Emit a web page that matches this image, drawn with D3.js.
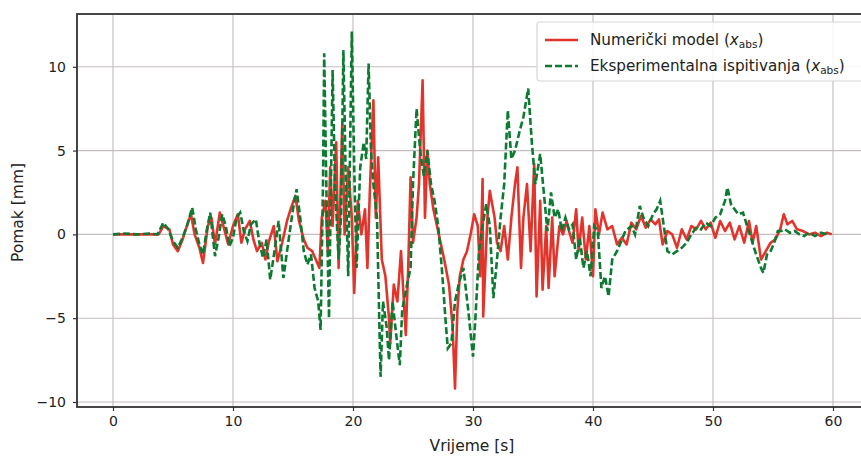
<!DOCTYPE html>
<html><head><meta charset="utf-8">
<script src="https://cdn.jsdelivr.net/npm/d3@7"></script>
<style>body{margin:0;background:#fff}svg{display:block}text{font-family:"DejaVu Sans",sans-serif;fill:#222}</style>
</head><body><svg id="c" width="861" height="458"></svg>
<script>
// Numerički model (x_abs)
const timeNum = [0,1,2,3,3.8,4.2,4.7,5.0,5.4,5.8,6.2,6.5,6.8,7.2,7.5,7.9,8.2,8.5,8.9,9.2,9.6,10.0,10.4,10.7,11.0,11.4,11.7,12.0,12.4,12.7,13.0,13.4,13.7,14.1,14.5,14.8,15.2,15.5,15.9,16.2,16.6,16.9,17.2,17.4,17.7,17.9,18.1,18.3,18.6,18.8,19.1,19.3,19.6,19.9,20.1,20.4,20.7,21.0,21.2,21.4,21.7,21.9,22.1,22.4,22.7,23.0,23.1,23.4,23.7,24.0,24.2,24.4,24.6,24.8,25.0,25.3,25.5,25.8,26.0,26.2,26.4,26.7,27.0,27.3,27.6,28.0,28.3,28.5,28.7,28.9,29.2,29.5,29.8,30.1,30.4,30.6,30.8,30.85,31.2,31.4,31.8,32.0,32.3,32.6,32.9,33.2,33.5,33.7,34.0,34.2,34.5,34.8,35.1,35.3,35.6,35.8,36.1,36.3,36.6,36.8,37.2,37.5,37.8,38.0,38.3,38.6,38.8,39.1,39.4,39.7,40.0,40.2,40.5,40.8,41.2,41.6,42.0,42.4,42.8,43.2,43.6,44.0,44.4,44.8,45.2,45.5,45.8,46.2,46.6,47.0,47.4,47.8,48.2,48.6,49.0,49.4,49.8,50.2,50.6,51.0,51.4,51.8,52.2,52.6,53.0,53.3,53.6,54.0,54.4,54.8,55.2,55.6,55.9,56.2,56.6,57.0,57.5,58.0,58.5,59.0,59.5,59.9];
const numericki = [0,0,0,0,0,0.5,0.3,-0.6,-1.0,-0.3,0.6,1.2,0.0,-0.8,-1.7,0.5,1.0,-0.6,1.3,0.5,-0.6,0.5,1.2,-0.5,0.3,0.8,-0.3,-1.0,-0.5,-1.5,-0.4,0.5,-1.6,-0.5,0.8,1.5,2.3,0.8,-0.3,-0.8,-1.0,-1.5,-2.0,1.0,2.0,-1.0,4.0,0.5,5.5,-2.0,6.5,0.0,4.0,1.0,-3.5,2.0,0.0,1.5,-2.0,2.5,8.0,1.0,4.6,-1.5,-2.5,-5.0,-6.5,-3.0,-4.0,-1.0,-3.5,-6.0,-2.0,3.4,-0.5,1.0,3.0,9.2,1.0,5.0,3.0,1.5,0.5,-0.5,-1.5,-3.0,-5.5,-9.2,-4.5,-2.5,-1.5,-1.0,0.0,1.2,0.5,-2.5,3.3,-4.9,1.0,2.6,1.0,-0.5,-1.0,0.5,-1.5,1.0,3.0,4.0,-2.0,1.0,3.0,-1.0,4.2,-3.7,2.0,-3.3,0.5,-3.2,1.0,-2.5,0.5,0.0,0.8,0.2,-0.5,1.5,-1.0,1.0,-1.5,0.5,-2.5,1.5,0.0,1.3,0.3,0.5,-0.6,-0.2,-0.6,0.7,0.3,1.1,0.4,0.9,0.6,0.9,-0.6,0.2,0.0,-0.8,0.3,-0.3,0.5,0.3,0.8,0.3,0.7,-0.2,0.8,0.2,0.7,-0.3,0.5,-0.5,0.8,-0.5,0.5,-1.5,-1.0,-0.5,-0.3,0.3,1.2,0.6,0.8,0.3,0.2,0.0,0.1,-0.1,0.1,0.0];
// Eksperimentalna ispitivanja (x_abs)
const timeExp = [0,1,2,3,3.7,4.2,4.6,5.0,5.4,5.8,6.2,6.6,6.9,7.2,7.5,7.8,8.1,8.5,8.8,9.1,9.4,9.7,10.0,10.3,10.6,10.9,11.2,11.5,11.9,12.2,12.5,12.8,13.1,13.5,13.8,14.2,14.6,15.0,15.3,15.6,15.9,16.2,16.5,16.8,17.1,17.3,17.5,17.6,17.8,18.0,18.3,18.5,18.8,19.0,19.2,19.4,19.6,19.9,20.1,20.3,20.6,20.9,21.1,21.3,21.5,21.7,22.0,22.2,22.3,22.5,22.8,23.0,23.3,23.6,23.9,24.1,24.5,24.8,25.0,25.3,25.6,25.9,26.2,26.5,26.8,27.1,27.4,27.7,27.9,28.2,28.5,28.8,29.2,29.6,30.0,30.2,30.5,30.8,31.1,31.4,31.7,32.0,32.3,32.6,32.9,33.2,33.5,33.9,34.2,34.6,34.9,35.2,35.6,35.9,36.2,36.5,36.8,37.1,37.4,37.7,38.0,38.3,38.6,38.9,39.2,39.5,39.8,40.1,40.4,40.7,41.0,41.3,41.6,42.0,42.3,42.7,43.2,43.5,43.9,44.2,44.6,45.0,45.3,45.6,45.9,46.2,46.6,47.0,47.4,47.8,48.2,48.6,49.0,49.4,49.8,50.2,50.6,51.0,51.2,51.5,51.8,52.1,52.5,52.8,53.2,53.6,54.0,54.2,54.5,54.8,55.1,55.4,55.7,56.0,56.4,56.8,57.2,57.6,58.0,58.5,59.0,59.5];
const eksperiment = [0,0.05,0,0.05,0,0.7,0.3,-0.4,-0.8,-0.2,0.6,1.6,0.3,-0.6,-1.2,0.2,1.3,-1.3,-0.2,1.2,0.5,-0.7,-0.2,1.0,1.3,0.2,-0.4,0.6,0.9,-0.5,-1.4,-0.3,-2.7,-0.8,0.8,-2.6,-0.5,1.5,2.7,1.0,-1.0,-1.8,-1.2,-3.2,-4.0,-5.7,3.0,10.8,2.0,-5.0,9.8,3.0,-1.5,1.0,11.0,3.0,-2.5,12.1,4.0,-2.0,4.0,5.5,4.5,10.2,5.0,3.0,1.0,-5.5,-8.5,-4.0,-5.5,-7.5,-4.0,-6.0,-7.8,-4.5,-3.0,-2.0,3.0,7.5,5.0,3.5,5.0,3.0,2.0,0.5,-2.0,-5.0,-6.8,-6.5,-4.0,-3.0,-2.0,-4.5,-7.3,-5.0,-1.0,0.5,1.8,0.5,-3.8,-1.5,1.0,3.0,7.4,4.5,5.0,6.2,7.0,8.7,5.5,3.0,4.8,2.5,0.2,2.5,1.0,1.5,0.2,1.0,0.3,0.6,-1.5,-0.2,-2.0,-1.0,-2.5,0.5,0.2,-3.2,-2.5,-3.7,-1.5,-1.0,-0.5,0.2,0.5,0.0,1.7,1.0,0.5,1.2,1.5,2.0,0.5,-1.0,-1.2,-1.0,-0.8,-0.5,0.0,0.4,0.3,0.7,0.5,1.0,1.2,2.0,2.8,1.8,1.5,1.2,1.3,0.6,-0.3,-1.2,-2.0,-2.3,-1.2,-1.0,-0.5,0.2,0.2,0.3,0.1,0.2,0.0,-0.1,0.1,-0.1,0.1,0.0];
const xTicks = [0,10,20,30,40,50,60];
const yTicks = [-10,-5,0,5,10];
const labels = {x:"Vrijeme [s]", y:"Pomak [mm]", num:"Numerički model", exp:"Eksperimentalna ispitivanja"};

const svg = d3.select("#c");
const L = 77, T = 14, W = 792, H = 393;
const x = d3.scaleLinear().domain([-3, 63]).range([L, L + W]);
const y = d3.scaleLinear().domain([-10.3, 13.15]).range([T + H, T]);

const g = svg.append("g");
g.selectAll(".gx").data(xTicks).join("line")
  .attr("x1", d => x(d)).attr("x2", d => x(d)).attr("y1", T).attr("y2", T + H)
  .attr("stroke", "#c4bcbc").attr("stroke-width", 1.1);
g.selectAll(".gy").data(yTicks).join("line")
  .attr("x1", L).attr("x2", L + W).attr("y1", d => y(d)).attr("y2", d => y(d))
  .attr("stroke", "#c4bcbc").attr("stroke-width", 1.1);

svg.append("clipPath").attr("id","cp").append("rect").attr("x",L).attr("y",T).attr("width",W).attr("height",H);

const line = d3.line().x(d => x(d[0])).y(d => y(d[1]));
const numData = timeNum.map((t, i) => [t, numericki[i]]);
const expData = timeExp.map((t, i) => [t, eksperiment[i]]);
svg.append("path").datum(numData).attr("d", line).attr("fill","none")
  .attr("stroke","#e3342c").attr("stroke-width",2.6).attr("stroke-linejoin","round").attr("clip-path","url(#cp)");
svg.append("path").datum(expData).attr("d", line).attr("fill","none")
  .attr("stroke","#0d7a32").attr("stroke-width",2.6).attr("stroke-dasharray","7,3").attr("clip-path","url(#cp)");

const xa = svg.append("g").attr("transform", `translate(0,${T + H})`)
  .call(d3.axisBottom(x).tickValues(xTicks).tickSize(4).tickPadding(5).tickFormat(d3.format("d")));
const ya = svg.append("g").attr("transform", `translate(${L},0)`)
  .call(d3.axisLeft(y).tickValues(yTicks).tickSize(4).tickPadding(7).tickFormat(d => d < 0 ? "\u2212" + Math.abs(d) : d));
[xa, ya].forEach(a => {
  a.select(".domain").remove();
  a.selectAll(".tick line").attr("stroke", "#333").attr("stroke-width", 1.2);
  a.selectAll(".tick text").attr("font-size", 14).attr("fill", "#222").style("font-family","DejaVu Sans");
});
svg.append("rect").attr("x", L).attr("y", T).attr("width", W).attr("height", H)
  .attr("fill", "none").attr("stroke", "#333").attr("stroke-width", 1.8);

svg.append("text").attr("x", x(30) - 1).attr("y", 451).attr("text-anchor", "middle")
  .attr("font-size", 15.5).text(labels.x);
svg.append("text").attr("transform", `translate(23,${T + H / 2 + 2}) rotate(-90)`).attr("text-anchor", "middle")
  .attr("font-size", 15.5).text(labels.y);

const lg = svg.append("g");
lg.append("rect").attr("x", 537).attr("y", 22).attr("width", 340).attr("height", 59).attr("rx", 3)
  .attr("fill", "#fff").attr("fill-opacity", 0.85).attr("stroke", "#d6d6d6").attr("stroke-width", 1.2);
lg.append("line").attr("x1", 545).attr("x2", 578).attr("y1", 40).attr("y2", 40)
  .attr("stroke", "#e3342c").attr("stroke-width", 2.6);
lg.append("line").attr("x1", 545).attr("x2", 578).attr("y1", 66).attr("y2", 66)
  .attr("stroke", "#0d7a32").attr("stroke-width", 2.6).attr("stroke-dasharray", "7,3");
function legText(yy, label) {
  const t = lg.append("text").attr("x", 590).attr("y", yy).attr("font-size", 15.2);
  t.append("tspan").text(label + " (");
  t.append("tspan").attr("font-style", "italic").text("x");
  t.append("tspan").attr("font-size", 10.5).attr("dy", 3).text("abs");
  t.append("tspan").attr("dy", -3).text(")");
}
legText(45, labels.num);
legText(71, labels.exp);
</script></body></html>
